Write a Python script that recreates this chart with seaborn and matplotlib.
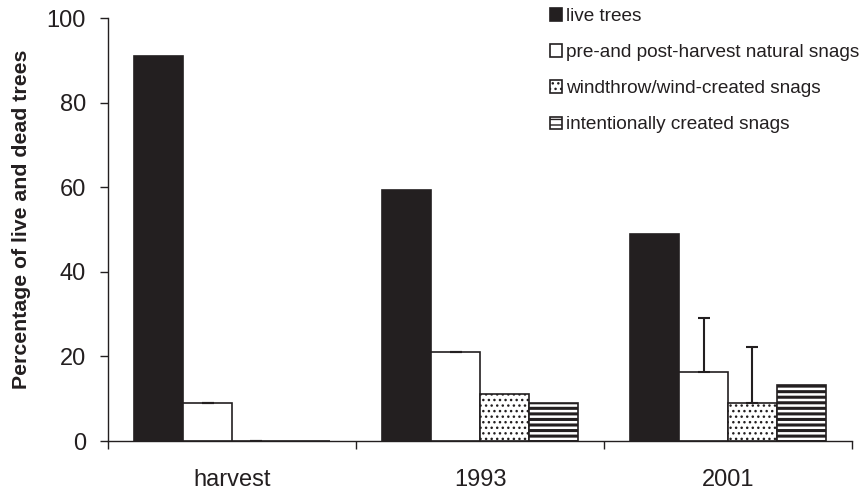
import pandas as pd
import numpy as np
import matplotlib
matplotlib.use("Agg")
import matplotlib.pyplot as plt
import seaborn as sns

periods = ["harvest", "1993", "2001"]
tree_types = ["live trees", "pre-and post-harvest natural snags",
              "windthrow/wind-created snags", "intentionally created snags"]
live_trees = [91.0, 59.3, 49.0]
natural_snags = [9.0, 21.0, 16.3]
wind_snags = [0.0, 11.0, 9.0]
created_snags = [0.0, 9.0, 13.2]
# upper error only, nan = no error bar drawn
natural_err = [0.0, 0.0, 12.7]
wind_err = [0.0, np.nan, 13.2]

sns.set_style("ticks")
plt.rcParams["font.family"] = ["Liberation Sans", "DejaVu Sans"]
plt.rcParams["hatch.linewidth"] = 1.0

ink = "#231f20"

df = pd.DataFrame({
    "period": periods * 4,
    "type": [t for t in tree_types for _ in periods],
    "value": live_trees + natural_snags + wind_snags + created_snags,
})
errs = {tree_types[1]: natural_err, tree_types[2]: wind_err}

fig = plt.figure(figsize=(8.62, 4.91), dpi=100)
ax = fig.add_axes([0.1253, 0.1018, 0.8631, 0.8615])

palette = {tree_types[0]: ink, tree_types[1]: "white",
           tree_types[2]: "white", tree_types[3]: "white"}
sns.barplot(data=df, x="period", y="value", hue="type", order=periods,
            hue_order=tree_types, palette=palette, edgecolor=ink,
            linewidth=1.2, width=0.79, errorbar=None, ax=ax, saturation=1,
            legend=False)

hatches = [None, None, "...", "---"]
for cont, h in zip(ax.containers, hatches):
    for bar in cont:
        if h:
            bar.set_hatch(h)
            if h == "---":
                try:
                    bar.set_hatch_linewidth(2.2)
                except AttributeError:
                    pass

# one-sided error bars
for cont, t in zip(ax.containers, tree_types):
    if t not in errs:
        continue
    for bar, e in zip(cont, errs[t]):
        if np.isnan(e):
            continue
        xc = bar.get_x() + bar.get_width() / 2
        ax.errorbar(xc, bar.get_height(), yerr=[[0], [e]], fmt="none",
                    ecolor=ink, elinewidth=1.5, capsize=4.5, capthick=1.5)

ax.set_xlim(-0.5, 2.5)
ax.set_ylim(0, 100)
ax.set_yticks([0, 20, 40, 60, 80, 100])
ax.set_xticks([-0.5, 0.5, 1.5, 2.5])
ax.set_xticklabels([])
ax.set_xticks([0, 1, 2], minor=True)
ax.set_xticklabels(periods, minor=True)
ax.tick_params(axis="x", which="major", length=6, width=1, color=ink)
ax.tick_params(axis="x", which="minor", length=0, pad=20, labelsize=17,
               labelcolor=ink)
ax.tick_params(axis="y", length=6, width=1, pad=10, labelsize=17,
               color=ink, labelcolor=ink)
ax.set_xlabel("")
ax.set_ylabel("Percentage of live and dead trees", fontsize=15.3,
              fontweight="bold", color=ink)
ax.yaxis.set_label_coords(-0.103, 0.525)
sns.despine(ax=ax)
for s in ["left", "bottom"]:
    ax.spines[s].set_color(ink)
    ax.spines[s].set_linewidth(1)

fig.legend(ax.containers, tree_types, loc="upper left",
           bbox_to_anchor=(0.638, 0.983), bbox_transform=fig.transFigure,
           frameon=False, fontsize=13.7, handlelength=0.63,
           handleheight=0.63, handletextpad=0.2, labelspacing=1.0,
           borderpad=0, borderaxespad=0, labelcolor=ink)

fig.savefig("out.png", dpi=100)
